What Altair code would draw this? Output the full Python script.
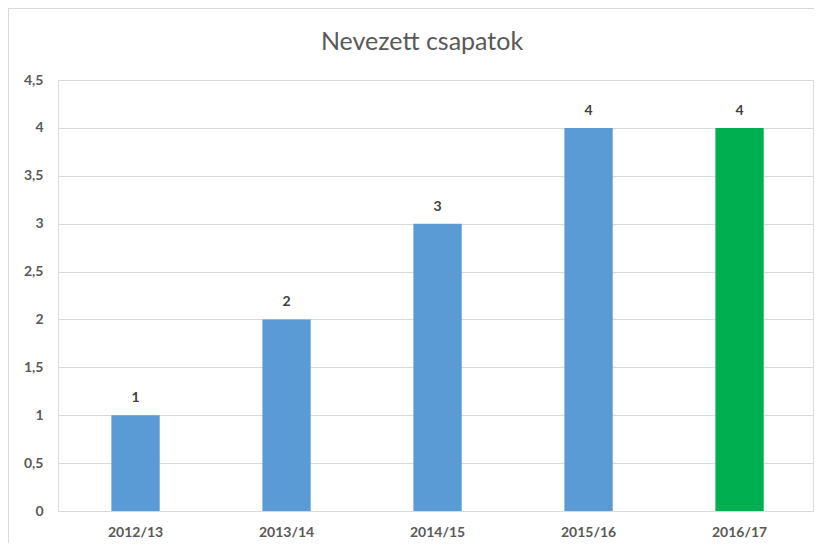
import altair as alt
import pandas as pd

seasons = ["2012/13", "2013/14", "2014/15", "2015/16", "2016/17"]
teams = [1, 2, 3, 4, 4]
bar_colors = ["#5B9BD5", "#5B9BD5", "#5B9BD5", "#5B9BD5", "#00B050"]
chart_title = "Nevezett csapatok"

df = pd.DataFrame({"season": seasons, "teams": teams, "color": bar_colors})

FONT = "Lato"
GREY = "#595959"

x = alt.X("season:N", sort=seasons, title=None,
          scale=alt.Scale(paddingInner=0.68, paddingOuter=0.34, align=0.52),
          axis=alt.Axis(labelAngle=0, labelFont=FONT, labelFontSize=14, labelFontWeight="bold",
                        labelColor=GREY, ticks=False, domain=False, labelPadding=14))
y = alt.Y("teams:Q", title=None,
          scale=alt.Scale(domain=[0, 4.5], nice=False),
          axis=alt.Axis(values=[0, 0.5, 1, 1.5, 2, 2.5, 3, 3.5, 4, 4.5],
                        labelExpr="replace(toString(datum.value), '.', ',')",
                        labelFont=FONT, labelFontSize=14, labelFontWeight="bold", labelColor=GREY,
                        ticks=False, domain=False, labelPadding=15,
                        gridColor="#D9D9D9", gridWidth=1.2))

frame = alt.Chart(df).mark_rect(fill=None, stroke="#D9D9D9", strokeWidth=2).encode(
    x=alt.value(-50), x2=alt.value(830), y=alt.value(-72), y2=alt.value(600)
)

title = alt.Chart(pd.DataFrame({"t": [chart_title]})).mark_text(
    font=FONT, fontSize=25, color=GREY, baseline="middle", align="center"
).encode(x=alt.value(364), y=alt.value(-38), text="t:N")

bars = alt.Chart(df).mark_bar().encode(
    x=x, y=y,
    color=alt.Color("color:N", scale=None, legend=None),
)

labels = alt.Chart(df).mark_text(baseline="alphabetic", dy=-13, font=FONT, fontSize=14,
                                 fontWeight="bold", color="#404040").encode(
    x=alt.X("season:N", sort=seasons),
    y=alt.Y("teams:Q"),
    text=alt.Text("teams:Q"),
)

chart = alt.layer(frame, title, bars, labels).properties(
    width=755, height=431,
    padding={"left": 50, "top": 72, "right": 1, "bottom": 32},
    autosize=alt.AutoSizeParams(type="none"),
).configure_view(stroke=None).configure(background="white")

chart.save("out.html", embed_options={"renderer": "svg", "actions": False})
